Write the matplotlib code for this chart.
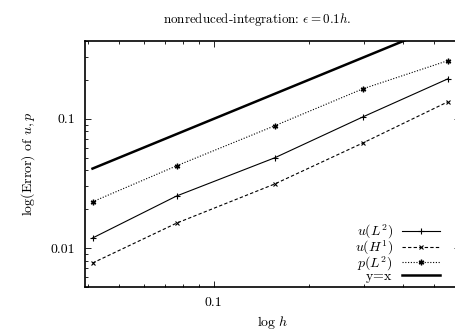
import matplotlib
matplotlib.use('Agg')
import matplotlib.pyplot as plt
from matplotlib.ticker import LogLocator, FixedLocator, FixedFormatter, NullFormatter

plt.rcParams['font.family'] = ['cmr10']
plt.rcParams['mathtext.fontset'] = 'cm'
plt.rcParams['axes.formatter.use_mathtext'] = True
plt.rcParams['font.size'] = 10

# values
h = [0.0412, 0.0762, 0.156, 0.298, 0.554]
err_uL2 = [0.01196, 0.0253, 0.0499, 0.1037, 0.204]
err_uH1 = [0.00766, 0.0156, 0.0313, 0.0652, 0.1355]
err_pL2 = [0.0228, 0.0433, 0.0883, 0.171, 0.282]

fig = plt.figure(figsize=(4.56, 3.35), dpi=100)
# right spine sits just outside the canvas, as in the reference
ax = fig.add_axes([85/456, 1-287/335, 375/456, 246/335])

ax.plot(h, err_uL2, '-', color='k', lw=0.8, marker='+', ms=5, mew=0.8, label=r'$u(L^2)$')
ax.plot(h, err_uH1, color='k', lw=0.8, dashes=(3, 2), marker='x', ms=3.5, mew=0.8, label=r'$u(H^1)$')
ax.plot(h, err_pL2, color='k', lw=0.8, dashes=(1, 1.5), marker=(6, 2, 0), ms=4, mew=1.0, label=r'$p(L^2)$')
ax.plot(h, h, '-', color='k', lw=1.8, label=r'y=x$^{\;}$')

ax.set_xscale('log')
ax.set_yscale('log')
ax.set_xlim(0.039, 0.605)
ax.set_ylim(0.005, 0.4)

ax.xaxis.set_major_locator(FixedLocator([0.1]))
ax.xaxis.set_major_formatter(FixedFormatter(['0.1']))
ax.xaxis.set_minor_locator(LogLocator(base=10, subs=range(2, 10)))
ax.xaxis.set_minor_formatter(NullFormatter())
ax.yaxis.set_major_locator(FixedLocator([0.01, 0.1]))
ax.yaxis.set_major_formatter(FixedFormatter(['0.01', '0.1']))
ax.yaxis.set_minor_locator(LogLocator(base=10, subs=range(2, 10)))
ax.yaxis.set_minor_formatter(NullFormatter())

ax.tick_params(which='both', direction='in', top=True, right=True, width=0.6)
ax.tick_params(which='major', length=4, pad=7)
ax.tick_params(which='minor', length=2.5)
for sp in ax.spines.values():
    sp.set_linewidth(1.2)

ax.set_xlabel(r'$\log\, h$', labelpad=3.5)
ax.set_ylabel(r'$\log(\mathrm{Error})$ of $u, p$', labelpad=10)
fig.text(257/456, 1-20/335, r'nonreduced-integration: $\epsilon = 0.1h$.', ha='center', va='center',
         fontsize=9.4)

ax.legend(loc='lower right', bbox_to_anchor=((440-85)/375, 0.01), frameon=False,
          markerfirst=False, handlelength=2.75, handletextpad=0.65, borderpad=0,
          borderaxespad=0, labelspacing=-0.2)

fig.savefig('out.png', dpi=100)
